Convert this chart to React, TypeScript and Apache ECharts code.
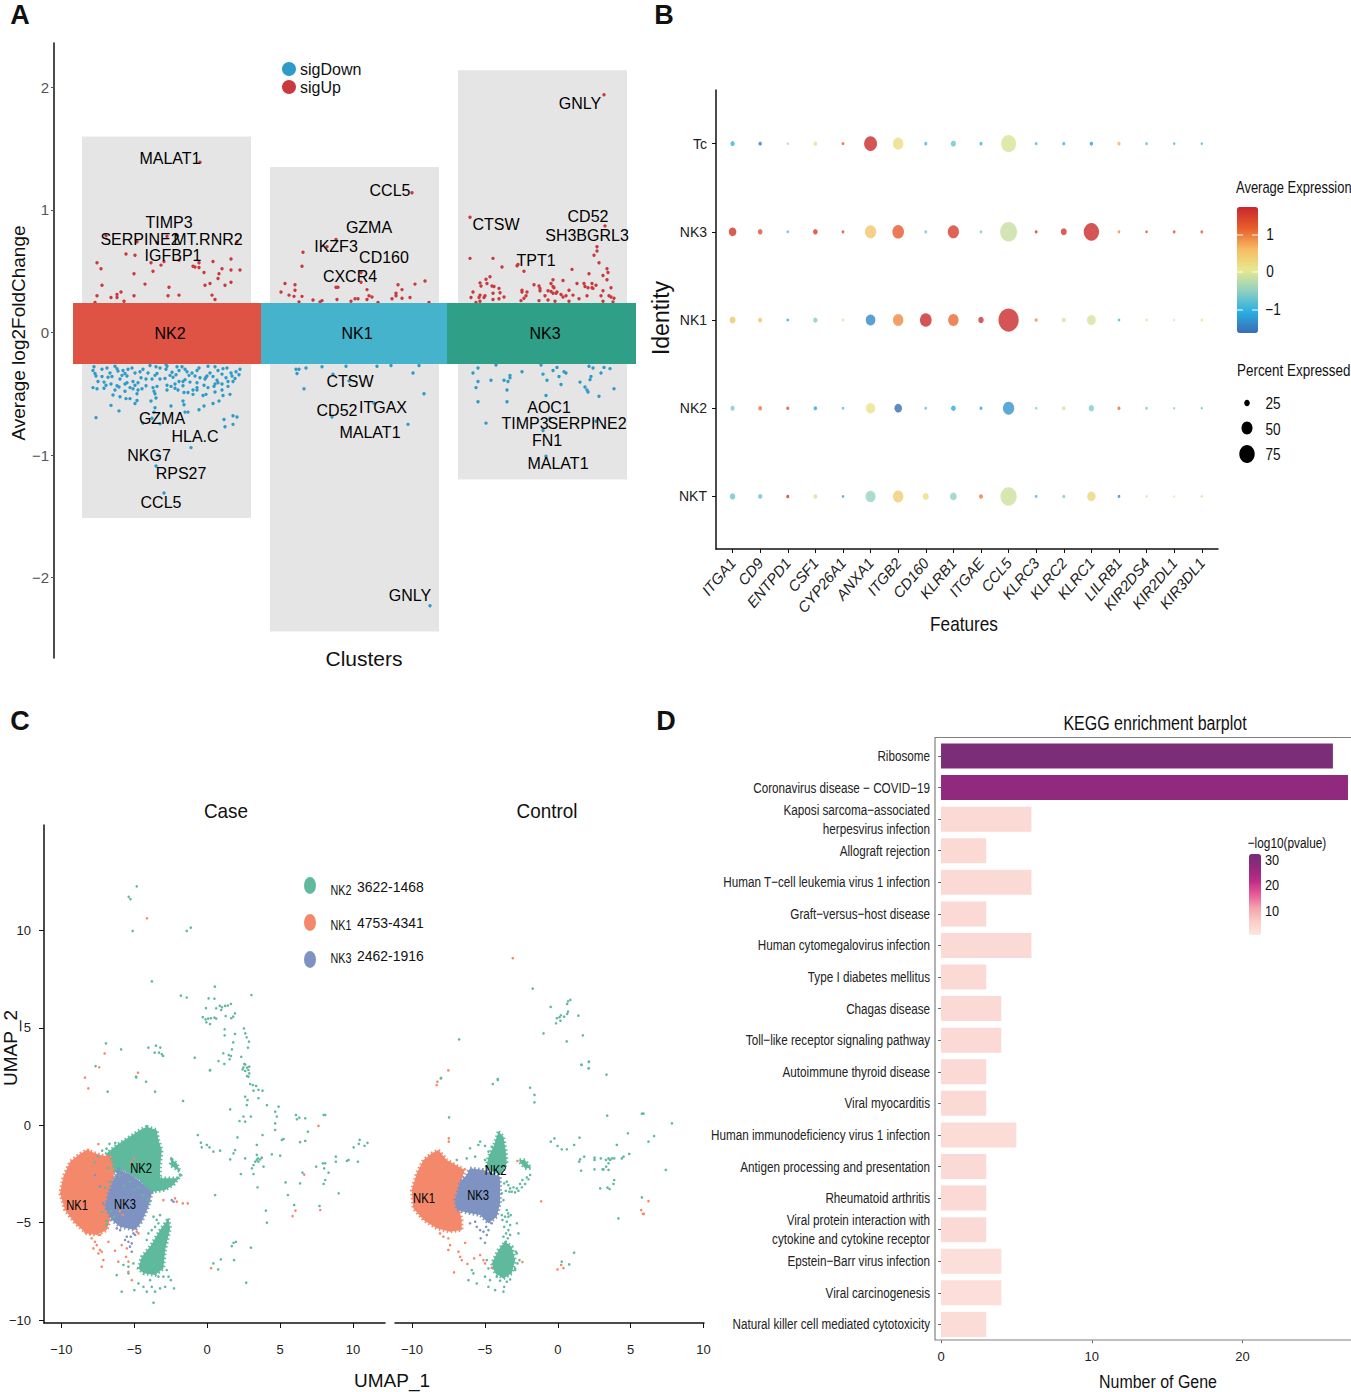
import React, { useEffect, useRef } from "react";
import * as echarts from "echarts";

const SANS = "'Liberation Sans', Arial, sans-serif";
const minus = (v: any) => String(v).replace("-", "\u2212");

// ---------- Panel A: strip positions (unitless jitter axis) and log2FC
const clusterNames = ["NK2", "NK1", "NK3"];
const clusterBands = [[73, 261], [261, 447], [447, 636]];
const clusterCentres = [170, 357, 545];
const bandTop = 0.24;
const bandBottom = -0.257;
const labelBoxes = [[82, 251, -1.515, 1.6], [270, 439, -2.44, 1.35], [458, 627, -1.2, 2.14]];
const sigUp = [
  [200, 1.39], [106, .79], [137, .74], [167, .785], [157, .735], [237, .74], [126, .64], [135, .63], [97, .57], [101, .52], [151, .57], [161, .55], [164, .58], [179, .59], [153, .5], [134, .48], [193, .54], [195, .535], [199, .53], [199, .57], [213, .58], [204, .49], [231, .6], [222, .52], [231, .51], [240, .51], [219, .48], [218, .44], [231, .41], [225, .385], [210, .4], [205, .385], [169, .37], [145, .395], [102, .385], [97, .3], [111, .285], [117, .285], [117, .31], [121, .33], [134, .3], [168, .3], [179, .305], [212, .305], [215, .27], [124, .255], [95, .245],
  [412, 1.14], [336, .76], [327, .7], [303, .655], [302, .54], [361, .49], [361, .41], [336, .37], [338, .37], [285, .4], [295, .39], [295, .345], [281, .33], [289, .305], [294, .295], [302, .295], [299, .25], [313, .265], [322, .26], [320, .25], [337, .27], [351, .255], [355, .275], [358, .275], [367, .27], [369, .3], [372, .29], [367, .35], [378, .245], [392, .275], [396, .3], [396, .32], [398, .39], [402, .35], [402, .28], [410, .285], [415, .395], [425, .42], [429, .245],
  [604, 1.94], [470, .94], [605, .87], [470, .605], [493, .605], [502, .535], [517, .545], [518, .555], [524, .5], [572, .515], [599, .57], [594, .63], [597, .665], [597, .7], [607, .52], [608, .49], [603, .465], [607, .43], [589, .48], [490, .455], [486, .435], [487, .4], [480, .405], [481, .38], [492, .38], [494, .375], [499, .36], [500, .325], [504, .29], [493, .32], [493, .27], [499, .275], [473, .33], [471, .285], [480, .305], [479, .285], [485, .3], [484, .285], [480, .255], [476, .245], [522, .345], [522, .33], [527, .33], [526, .3], [524, .28], [521, .26], [534, .39], [539, .38], [540, .36], [540, .34], [539, .26], [545, .3], [548, .34], [551, .4], [553, .43], [553, .375], [554, .365], [551, .335], [553, .32], [556, .32], [557, .33], [548, .265], [555, .255], [563, .425], [569, .345], [561, .31], [563, .29], [566, .3], [573, .305], [569, .255], [577, .4], [584, .4], [585, .375], [588, .365], [592, .4], [593, .36], [596, .385], [592, .365], [587, .3], [579, .275], [601, .3], [603, .34], [611, .365], [609, .3], [611, .29], [614, .28], [603, .255], [613, .25],
];
const sigDown = [
  [94, -.28], [93, -.31], [95, -.335], [96, -.355], [102, -.3], [107, -.29], [115, -.275], [117, -.295], [118, -.315], [123, -.31], [128, -.3], [132, -.29], [125, -.335], [127, -.355], [140, -.32], [143, -.3], [150, -.27], [156, -.28], [160, -.29], [166, -.3], [167, -.275], [166, -.26], [177, -.28], [179, -.31], [182, -.28], [185, -.3], [187, -.32], [189, -.35], [195, -.355], [197, -.31], [199, -.29], [208, -.275], [215, -.28], [218, -.31], [223, -.295], [227, -.29], [231, -.33], [232, -.355], [239, -.345], [235, -.375], [233, -.4], [228, -.4], [217, -.39], [218, -.41], [215, -.42], [207, -.355], [205, -.38], [204, -.43], [197, -.45],
  [102, -.36], [108, -.365], [112, -.36], [122, -.35], [127, -.41], [133, -.4], [135, -.43], [138, -.41], [155, -.35], [157, -.335], [152, -.38], [165, -.375], [170, -.35], [173, -.365], [179, -.4], [175, -.42], [167, -.43], [183, -.435], [190, -.405], [197, -.41], [206, -.365],
  [93, -.45], [97, -.46], [104, -.405], [106, -.43], [104, -.455], [117, -.435], [115, -.47], [119, -.445], [125, -.48], [133, -.46], [138, -.47], [137, -.5], [113, -.51], [120, -.525], [126, -.54], [130, -.54], [135, -.58], [137, -.555], [146, -.435], [153, -.45], [154, -.48], [155, -.5], [156, -.535], [151, -.56], [167, -.47], [175, -.455], [184, -.49], [188, -.49], [193, -.47], [193, -.505], [197, -.47], [203, -.515], [206, -.505], [215, -.485], [222, -.47], [223, -.515], [230, -.505],
  [111, -.595], [119, -.64], [183, -.56], [184, -.59], [155, -.615], [154, -.65], [171, -.6], [185, -.65], [188, -.65], [199, -.63], [204, -.6], [213, -.58], [219, -.56], [96, -.695], [152, -.7], [160, -.745], [224, -.71], [233, -.68], [237, -.69], [233, -.75], [225, -.77],
  [110, -.33], [135, -.33], [148, -.33], [172, -.325], [176, -.345], [192, -.33], [210, -.33], [213, -.36], [222, -.34], [226, -.37], [236, -.32], [240, -.3], [120, -.38], [141, -.37], [146, -.38], [160, -.38], [185, -.385], [200, -.37], [183, -.4], [222, -.42], [228, -.44], [98, -.4], [111, -.42], [125, -.42], [142, -.46], [157, -.44], [171, -.44], [178, -.47], [208, -.45], [214, -.44], [130, -.45],
  [191, -.94], [158, -1.0], [156, -1.09], [164, -1.31], [143, -.74],
  [296, -.3], [299, -.3], [297, -.335], [306, -.29], [322, -.28], [333, -.34], [346, -.275], [377, -.275], [391, -.27], [419, -.27], [413, -.33], [304, -.46], [349, -.395], [424, -.5], [374, -.575], [332, -.69], [408, -.75], [430, -2.23],
  [478, -.29], [473, -.33], [496, -.265], [478, -.4], [476, -.45], [491, -.39], [504, -.39], [510, -.35], [510, -.37], [508, -.4], [507, -.47], [522, -.32], [541, -.265], [543, -.34], [553, -.31], [557, -.285], [559, -.36], [547, -.39], [564, -.32], [566, -.33], [561, -.425], [589, -.275], [593, -.29], [604, -.285], [610, -.295], [601, -.33], [591, -.36], [590, -.385], [580, -.405], [585, -.445], [587, -.47], [588, -.485], [599, -.52], [614, -.46], [546, -.515], [478, -.565], [507, -.565], [486, -.74], [550, -.7], [596, -.725], [543, -.8], [546, -1.01],
];
const geneLabels: [number, number, string][] = [
  [170, 1.42, "MALAT1"], [169, .9, "TIMP3"], [140, .76, "SERPINE2"], [208, .76, "MT.RNR2"], [173, .625, "IGFBP1"], [162, -.7, "GZMA"], [195, -.85, "HLA.C"], [149, -1.0, "NKG7"], [181, -1.155, "RPS27"], [161, -1.385, "CCL5"],
  [390, 1.16, "CCL5"], [369, .855, "GZMA"], [336, .7, "IKZF3"], [384, .615, "CD160"], [350, .46, "CXCR4"], [350, -.4, "CTSW"], [337, -.64, "CD52"], [383, -.615, "ITGAX"], [370, -.82, "MALAT1"], [410, -2.15, "GNLY"],
  [580, 1.87, "GNLY"], [496, .885, "CTSW"], [588, .95, "CD52"], [587, .79, "SH3BGRL3"], [536, .585, "TPT1"], [549, -.61, "AOC1"], [525, -.745, "TIMP3"], [587, -.745, "SERPINE2"], [547, -.885, "FN1"], [558, -1.07, "MALAT1"],
];

// ---------- Panel B
const features = ["ITGA1", "CD9", "ENTPD1", "CSF1", "CYP26A1", "ANXA1", "ITGB2", "CD160", "KLRB1", "ITGAE", "CCL5", "KLRC3", "KLRC2", "KLRC1", "LILRB1", "KIR2DS4", "KIR2DL1", "KIR3DL1"];
const identities = ["NKT", "NK2", "NK1", "NK3", "Tc"];
const exprNKT = [-.7, -.7, 1.6, -.05, -1.2, -.45, .4, .2, -.5, 1.0, -.12, -.9, -.6, .3, -1.4, -.05, 0, -.1];
const pctNKT = [22, 16, 10, 14, 7, 44, 46, 24, 28, 14, 74, 8, 10, 36, 8, 6, 5, 6];
const exprNK2 = [-.6, 1.0, 1.3, -1.1, -.9, .1, -1.7, -.8, -1.1, -1.2, -1.3, -.5, -.05, -.6, 1.1, -.7, -.5, -.7];
const pctNK2 = [16, 14, 10, 12, 7, 40, 32, 8, 18, 9, 50, 7, 12, 22, 10, 7, 6, 6];
const exprNK1 = [.5, .5, -1.1, -.6, 0, -1.4, .9, 1.7, 1.1, 1.6, 1.7, .9, -.05, -.05, -.9, .1, 0, .2];
const pctNK1 = [24, 16, 8, 16, 8, 42, 46, 52, 46, 22, 94, 10, 14, 38, 8, 8, 6, 7];
const exprNK3 = [1.6, 1.3, -.9, 1.5, 1.5, .5, 1.2, -.7, 1.5, -.6, -.15, 1.6, 1.6, 1.7, .9, 1.4, 1.4, 1.3];
const pctNK3 = [32, 18, 7, 18, 8, 50, 52, 9, 50, 9, 78, 9, 24, 70, 8, 7, 8, 8];
const exprTc = [-1, -1.5, -.3, 0, 1.2, 1.7, .2, -.9, -.7, -1, -.05, -.9, -.9, -1.2, .7, -.8, -.9, -.9];
const pctTc = [16, 12, 6, 14, 8, 58, 46, 10, 20, 10, 68, 8, 10, 12, 10, 8, 7, 7];
const exprRows = [exprNKT, exprNK2, exprNK1, exprNK3, exprTc];
const pctRows = [pctNKT, pctNK2, pctNK1, pctNK3, pctTc];
const dotData = exprRows.flatMap((row, r) => row.map((e, c) => [c, r + 1, e, pctRows[r][c]]));

// ---------- Panel C (UMAP). Dense cores are outlined; sparse cells are individual points
const caseTealCore = [
  [[-4.14, -.07], [-3.46, -.24], [-3.34, -.75], [-3.11, -1.27], [-3.23, -2.12], [-3.23, -2.72], [-2.08, -2.72], [-1.74, -2.47], [-2.31, -3.07], [-2.88, -3.32], [-3.68, -3.41], [-3.91, -3.49], [-4.6, -2.81], [-5.74, -2.29], [-6.66, -2.47], [-6.89, -1.78], [-6.89, -1.44], [-6.2, -1.01], [-5.29, -.58], [-4.6, -.24]],
  [[-2.65, -4.78], [-2.54, -5.29], [-2.88, -6.4], [-3.0, -7.35], [-3.57, -7.69], [-4.37, -7.6], [-4.71, -7.35], [-4.49, -6.75], [-3.91, -6.23], [-3.23, -5.38]],
  [[-2.43, -1.75], [-2.09, -1.95], [-1.86, -2.38], [-2.2, -2.21], [-2.54, -2.04]],
];
const caseOrangeCore = [[[-8.26, -1.27], [-7.35, -1.52], [-6.66, -1.61], [-6.4, -2.47], [-6.5, -3.49], [-6.6, -4.69], [-6.89, -5.38], [-7.57, -5.63], [-8.26, -5.55], [-9.06, -5.03], [-9.75, -4.35], [-10.09, -3.49], [-9.86, -2.64], [-9.4, -1.87], [-8.83, -1.52]]];
const caseBlueCore = [[[-6.09, -2.29], [-5.4, -2.47], [-4.6, -2.89], [-3.8, -3.49], [-4.03, -4.18], [-4.49, -4.95], [-4.94, -5.38], [-5.97, -5.21], [-6.54, -4.86], [-7.0, -4.18], [-6.77, -3.49], [-6.43, -2.81]]];
const caseTeal = [
  [-4.83, 12.27], [-5.38, 11.73], [-5.26, 11.61], [-5.11, 9.98], [-1.4, 9.98], [-1.12, 10.15], [-3.79, 7.39], [-1.8, 6.66], [-1.4, 6.56], [.53, 7.12], [.1, 6.52], [.5, 6.5], [3.04, 6.69], [-.08, 6.02], [.62, 6.01], [.87, 6.13], [1.02, 6.06], [1.23, 6.13], [1.42, 6.15], [1.63, 6.23], [.96, 5.92], [1.27, 5.61], [1.91, 5.75], [1.79, 5.58], [1.66, 5.5], [-.3, 5.55], [-.11, 5.44], [.07, 5.48], [.26, 5.5], [.5, 5.53], [.62, 5.48], [-.05, 5.29], [.2, 5.2], [1.2, 4.93], [2.52, 4.98], [2.62, 4.72], [1.91, 4.69], [1.2, 4.62], [2.71, 4.52], [2.87, 4.3], [1.79, 4.26], [2.8, 3.99], [1.7, 3.9], [1.48, 3.61], [1.63, 3.56], [1.54, 3.39], [1.11, 3.7], [.78, 3.3], [1.18, 3.15], [2.34, 3.52], [2.55, 3.15], [2.43, 2.87], [2.74, 2.96], [2.89, 3.01], [2.61, 2.79], [2.89, 2.67], [2.74, 2.53], [.19, 2.82], [-.85, 3.47],
  [-6.94, 4.21], [-5.9, 3.9], [-7.65, 3.04], [-4.03, 3.99], [-3.51, 4.09], [-3.21, 3.99], [-3.6, 3.73], [-3.3, 3.73], [-3.11, 3.65], [-3.02, 3.56], [-4.86, 2.46],
  [-4.88, 2.5], [-6.82, 1.73], [-4.19, 2.24], [-3.57, 1.73], [-1.65, 1.25], [.21, 2.84], [2.49, 2.98], [2.83, 2.84], [2.61, 3.12], [2.83, 2.5], [2.95, 2.12], [3.14, 2.07], [3.36, 2.02], [3.52, 1.82], [3.8, 1.78], [3.18, 1.78], [2.61, 1.47], [2.77, 1.3], [2.72, 1.04], [3.52, 1.39], [4.1, 1.04], [1.58, .82], [2.49, .45], [2.22, .22], [2.61, .19], [3.0, .45], [4.67, .7], [4.9, .96], [4.78, .45], [4.67, .1], [4.67, -.24], [6.09, .53], [6.16, .31], [6.32, .39], [6.73, .36], [6.91, -.33], [7.99, .53], [8.1, .53], [5.13, -.75], [5.24, -.7], [6.38, -.86], [6.73, -.8], [3.8, -.5], [3.41, -1.01], [2.08, -.62], [-.64, -.5], [-.43, -.89], [-.37, -1.13], [-.02, -1.01], [.16, -1.13], [.43, -1.35], [.89, -1.3], [1.92, -1.27], [1.81, -1.44], [1.58, -1.75], [2.61, -1.7], [4.44, -1.49], [5.01, -1.56],
  [3.18, -2.04], [3.3, -1.87], [3.41, -1.52], [3.48, -1.7], [3.64, -1.75], [3.75, -1.66], [3.41, -1.78], [3.52, -1.87], [3.87, -2.12], [3.07, -2.21], [3.18, -2.5], [2.31, -2.5], [3.46, -3.18], [.55, -3.58], [4.03, -4.38], [4.1, -5.0], [5.38, -2.93], [5.54, -3.58], [6.38, -2.98], [6.54, -2.43], [5.97, -4.09], [7.71, -4.14], [9.02, -3.49], [7.48, -2.12], [7.94, -1.95], [8.1, -1.95], [8.03, -2.21], [8.33, -2.43], [8.1, -2.81], [7.99, -3.01], [8.83, -1.61], [8.83, -1.87], [9.59, -1.83], [9.7, -1.78], [10.05, -1.13], [10.34, -1.87], [10.46, -.75], [11, -.9], [10.8, -1.05], [10.4, -.95],
  [1.69, -6.2], [1.81, -6.03], [1.97, -5.98], [3.0, -6.28], [1.85, -6.92], [.94, -6.88], [.43, -7.09], [.76, -7.4], [2.68, -8.08],
  [-3.68, -4.69], [-3.46, -4.86], [-3.23, -4.61], [-3.8, -5.38], [-4.03, -5.55], [-4.14, -5.89], [-3.57, -5.21], [-3.34, -5.03], [-5.06, -7.09], [-5.4, -7.26], [-5.74, -7.17], [-6.2, -7.69], [-5.86, -8.54], [-4.99, -8.46], [-5.4, -7.6], [-4.71, -8.12], [-4.37, -8.29], [-4.14, -8.54], [-3.8, -8.29], [-3.57, -8.54], [-3.23, -8.37], [-2.88, -8.29], [-2.65, -7.77], [-2.49, -7.95], [-2.27, -8.37], [-3.68, -9.11], [-2.77, -7.43], [-3.91, -7.95], [-3.34, -7.77], [-3.0, -7.77],
  [-6.8, -2.2], [-6.7, -2.9], [-7.0, -3.2], [-6.6, -4.4], [-6.9, -4.9], [-6.4, -4.7], [-7.2, -4.45], [-6.9, -5.1], [-5.7, -3.1], [-5.3, -2.9], [-5.0, -3.3], [-4.4, -3.6], [-4.1, -3.8], [-4.7, -3.2], [-6.0, -2.6], [-3.9, -3.9], [-7.7, -1.9], [-7.5, -1.6], [-6.9, -1.2], [-6.7, -.95], [-6.3, -.9], [-7.2, -1.3],
];
const caseOrange = [
  [-4.13, 10.63], [-7.03, 3.69], [-7.4, 2.98], [-4.74, 2.7], [-8.38, 2.45], [-8.15, 1.9], [7.64, -.03], [6.66, -2.53], [6.06, -4.38], [5.86, -4.66], [7.76, -4.35], [.27, -7.33],
  [-7.92, -5.8], [-7.69, -5.98], [-7.57, -6.15], [-7.8, -6.32], [-7.35, -6.4], [-7.46, -6.58], [-7.23, -6.49], [-7.12, -6.92], [-7.23, -7.26], [-6.77, -5.98], [-6.32, -6.44], [-5.86, -6.15], [-5.51, -6.32], [-6.09, -7.0], [-5.56, -6.75], [-5.4, -7.0], [-5.4, -7.52], [-5.17, -7.95], [-4.83, -5.46], [-4.71, -5.55], [-3.0, -3.84], [-2.2, -3.75], [-2.08, -3.92], [-1.67, -4.01], [-1.33, -4.01], [-7.46, -.96], [-8.15, -1.27], [-7.35, -5.63], [-8.03, -5.58], [-8.37, -5.46], [-5.8, -4.6], [-6.0, -4.4], [-5.2, -1.9], [-5.0, -1.7],
];
const caseBlue = [[-6.2, -5.29], [-5.97, -5.38], [-5.63, -5.89], [-5.4, -5.98], [-5.17, -6.06], [-5.29, -6.23], [-5.17, -6.49], [-5.06, -5.55], [-4.94, -5.63], [-5.51, -5.72], [-5.24, -5.72], [-2.43, -3.84], [-2.31, -3.92], [-7.12, -4.01], [-7.35, -3.15], [-7.69, -2.55], [-6.2, -2.38], [-6.09, -2.21]];
const controlTealCore = [
  [[-4.07, -.33], [-3.73, -.58], [-3.55, -1.44], [-3.5, -1.95], [-3.96, -2.55], [-4.92, -2.21], [-4.76, -1.61], [-4.42, -1.1]],
  [[-3.62, -5.98], [-3.16, -6.23], [-2.93, -6.92], [-3.16, -7.6], [-3.73, -7.86], [-4.3, -7.6], [-4.53, -7.09], [-4.07, -6.4]],
  [[-2.63, -1.78], [-2.25, -1.78], [-1.85, -2.21], [-2.25, -2.21], [-2.54, -1.95]],
];
const controlOrangeCore = [[[-8.19, -1.27], [-7.62, -1.78], [-6.82, -2.12], [-6.4, -2.29], [-6.6, -2.81], [-6.7, -3.49], [-6.8, -4.18], [-6.6, -4.86], [-6.59, -5.38], [-7.39, -5.46], [-8.31, -5.29], [-9.22, -4.86], [-9.91, -4.26], [-10.02, -3.32], [-9.68, -2.47], [-9.22, -1.78], [-8.65, -1.44]]];
const controlBlueCore = [[[-6.02, -2.21], [-5.1, -2.29], [-3.96, -2.64], [-3.96, -4.01], [-4.19, -4.69], [-4.76, -5.03], [-5.33, -4.61], [-6.02, -4.52], [-6.93, -4.35], [-7.05, -3.84], [-6.82, -3.24], [-6.7, -2.89], [-6.25, -2.55]]];
const controlTeal = [
  [-4.76, -8.29], [-4.3, -8.46], [-3.73, -8.54], [-3.68, -8.29], [-4.65, -7.95], [-4.99, -7.77], [-5.56, -8.12], [-6.13, -7.95], [-5.79, -7.6], [-5.9, -7.43], [-2.81, -6.58], [-2.63, -6.92], [-2.93, -7.43], [-2.7, -5.55], [-2.81, -5.03], [-3.5, -4.35], [-3.73, -3.84], [-3.84, -3.49], [-6.93, -1.78], [-6.25, -1.7], [-5.67, -1.61], [-6.02, -1.18], [-5.33, -.84], [-5.45, -1.01], [-4.99, -1.78], [-4.53, -1.1], [-4.07, -.75], [-4.76, -1.35], [-4.99, -1.06], [-4.46, 2.12], [-4.12, 2.33], [-8.03, 2.41], [-7.46, .41], [-1.9, 1.93], [-1.6, 1.56], [-1.6, 1.18],
  [-.48, -.84], [-.23, -.67], [-.02, -1.06], [.27, -1.23], [.62, -1.23], [1.12, -1.01], [1.49, -.63], [1.81, -1.61], [1.53, -1.75], [1.46, -1.87], [1.6, -2.33], [2.52, -1.66], [2.52, -1.78], [2.52, -2.26], [2.95, -1.7], [3.07, -2.26], [3.3, -1.78], [3.48, -1.7], [3.59, -1.78], [3.71, -1.7], [3.87, -1.7], [3.48, -1.95], [3.32, -2.12], [3.14, -2.26], [3.48, -2.29], [4.05, -1.01], [4.39, -1.7], [4.51, -1.61], [4.9, -1.47], [3.87, -2.81], [3.82, -3.01], [2.91, -3.24], [3.41, -3.2], [3.55, -3.27], [5.77, -3.7], [4.16, -4.78], [7.41, -2.29], [4.81, -.41], [6.22, -.84], [6.61, -.55], [7.83, .1], [5.77, .6], [5.88, .6], [3.39, .5], [1.62, 3.1], [2.13, 3.27], [2.13, 2.93], [1.12, -6.54], [.27, -7.0], [.78, -7.14],
  [-1.72, 7.02], [-.49, 6.08], [.7, 6.37], [.86, 6.44], [.64, 6.23], [.7, 5.84], [.64, 5.72], [.43, 5.58], [.21, 5.65], [.12, 5.55], [-.06, 5.5], [.18, 5.37], [-.12, 5.24], [1.41, 5.63], [-.98, 4.72], [1.72, 4.62], [.61, 4.31], [-6.77, 4.41], [-8.0, 2.43], [-4.11, 2.38], [1.62, 3.11], [2.14, 3.25], [2.11, 2.93], [3.34, 2.6],
  [-3.39, -3.07], [-3.27, -3.24], [-3.16, -3.41], [-2.93, -3.44], [-2.7, -3.36], [-2.47, -3.18], [-2.24, -3.01], [-2.01, -2.77], [-1.9, -2.55], [-3.5, -2.89], [-3.04, -3.18], [-2.81, -3.24], [-2.59, -3.01], [-2.13, -2.67], [-3.32, -3.41], [-3.57, -3.36], [-3.68, -2.98], [-2.43, -2.81],
  [-3.84, -4.61], [-3.62, -4.69], [-3.39, -4.69], [-3.5, -4.95], [-3.27, -5.12], [-3.68, -5.21], [-3.39, -5.38], [-3.55, -5.55], [-3.27, -5.63], [-3.43, -5.8], [-3.73, -5.72], [-3.23, -4.61], [-3.8, -4.86], [-3.41, -4.52], [-3.59, -5.98],
  [-4.42, -7.35], [-4.19, -7.77], [-3.96, -7.98], [-3.5, -8.03], [-3.27, -7.91], [-2.93, -7.35], [-2.77, -7.09], [-2.88, -6.49], [-3.84, -6.23], [-4.19, -6.75], [-4.76, -7.35], [-4.87, -6.92],
];
const controlOrange = [
  [-3.09, 8.58], [-7.51, 2.82], [-8.26, 2.24], [-8.31, 2.07], [-7.48, -.67], [-7.48, -.84], [-2.77, -1.83], [-1.14, -3.9], [6.22, -3.89], [5.72, -4.35], [5.84, -4.55], [5.9, -4.55], [-.02, -7.4], [.39, -7.33], [.23, -7.17],
  [-8.08, -5.55], [-7.85, -5.72], [-7.51, -5.8], [-7.39, -6.15], [-7.51, -6.4], [-6.82, -6.49], [-6.7, -6.75], [-6.59, -6.92], [-6.36, -6.03], [-6.2, -7.12], [-7.12, -7.55], [-5.74, -6.83], [-5.33, -6.66], [-5.1, -6.92], [-4.99, -7.09], [-4.53, -7.31], [-2.43, -7.02],
];
const controlBlue = [[-5.67, -4.95], [-5.56, -5.21], [-5.33, -5.38], [-5.1, -5.46], [-4.92, -5.21], [-4.87, -5.63], [-4.99, -6.03], [-5.29, -5.8], [-4.76, -5.38], [-6.02, -5.03], [-4.53, -5.03]];
const caseLabels: [number, number, string][] = [[-4.53, -2.19, "NK2"], [-8.92, -4.09, "NK1"], [-5.63, -4.04, "NK3"]];
const controlLabels: [number, number, string][] = [[-4.27, -2.3, "NK2"], [-9.18, -3.74, "NK1"], [-5.47, -3.58, "NK3"]];
const umapTicks = [-10, -5, 0, 5, 10];
const legendNames = ["NK2 3622-1468", "NK1 4753-4341", "NK3 2462-1916"];

// ---------- Panel D
const pathways = ["Ribosome", "Coronavirus disease \u2212 COVID\u221219", "Kaposi sarcoma\u2212associated\nherpesvirus infection", "Allograft rejection", "Human T\u2212cell leukemia virus 1 infection", "Graft\u2212versus\u2212host disease", "Human cytomegalovirus infection", "Type I diabetes mellitus", "Chagas disease", "Toll\u2212like receptor signaling pathway", "Autoimmune thyroid disease", "Viral myocarditis", "Human immunodeficiency virus 1 infection", "Antigen processing and presentation", "Rheumatoid arthritis", "Viral protein interaction with\ncytokine and cytokine receptor", "Epstein\u2212Barr virus infection", "Viral carcinogenesis", "Natural killer cell mediated cytotoxicity"];
const geneCounts = [26, 27, 6, 3, 6, 3, 6, 3, 4, 4, 3, 3, 5, 3, 3, 3, 4, 4, 3];
const pValues = [31, 27, 3, 3, 3, 3, 3, 3, 3, 3, 3, 3, 2.5, 3, 3, 3, 2, 2, 2.5];

const TEAL = "#5fb99c", ORANGE = "#f4886b", BLUE = "#7f93c2";
const ELLIPSE_ICON = "path://M0,-1A1,1 0 1 1 0,1A1,1 0 1 1 0,-1Z";

function T(x: number, y: number, text: string, size: number, o: any = {}) {
  return {
    type: "text", x, y, rotation: o.rotation ?? 0, scaleX: o.scaleX ?? 1, z: 50,
    style: { text, fontSize: size, fontFamily: SANS, fontWeight: o.weight ?? "normal", fill: o.fill ?? "#111", textAlign: o.align ?? "center", textVerticalAlign: "middle" },
  };
}

function polySeries(blobs: number[][][], color: string, g: number) {
  return {
    type: "custom", xAxisIndex: g, yAxisIndex: g, silent: true, clip: false, z: 2,
    data: blobs.map((b) => b[0]), encode: { x: 0, y: 1 },
    renderItem: (p: any, api: any) => ({
      type: "polygon",
      shape: { points: blobs[p.dataIndex].map((c) => api.coord(c)) },
      style: { fill: color, stroke: color, lineWidth: 3.5, lineDash: [1.5, 2.5] },
    }),
  };
}
function pointSeries(name: string, data: number[][], color: string, g: number, size = 2.6) {
  return { type: "scatter", name, data, xAxisIndex: g, yAxisIndex: g, symbol: "circle", symbolSize: size, itemStyle: { color, opacity: 1 }, z: 3, silent: true };
}
function labelSeries(data: [number, number, string][], g: number, size: number, scaleX = 1) {
  return {
    type: "custom", data, xAxisIndex: g, yAxisIndex: g, z: 6, silent: true, clip: false, encode: { x: 0, y: 1 },
    renderItem: (p: any, api: any) => {
      const c = api.coord([data[p.dataIndex][0], data[p.dataIndex][1]]);
      return { type: "text", x: c[0], y: c[1], scaleX, style: { text: data[p.dataIndex][2], align: "center", verticalAlign: "middle", fontSize: size, fontFamily: SANS, fill: "#000" } };
    },
  };
}
const blankX = (g: number, min: number, max: number) => ({ type: "value", gridIndex: g, min, max, show: false });

export default function App() {
  const ref = useRef<HTMLDivElement>(null);
  useEffect(() => {
    document.body.style.margin = "0";
    const chart = echarts.init(ref.current!, undefined, { renderer: "svg" });
    const umapX = (g: number, min: number, max: number) => ({
      type: "value", gridIndex: g, min, max, splitLine: { show: false },
      axisLine: { onZero: false, lineStyle: { color: "#111", width: 1.5 } },
      axisTick: { show: true, length: 5, customValues: umapTicks, lineStyle: { color: "#111" } },
      axisLabel: { customValues: umapTicks, formatter: minus, margin: 20, fontSize: 13, fontFamily: SANS, color: "#222" },
    });
    const series: any[] = [
      // A
      {
        type: "custom", xAxisIndex: 0, yAxisIndex: 0, silent: true, z: 1, data: labelBoxes, encode: { x: 0, y: 2 },
        renderItem: (p: any, api: any) => {
          const b = labelBoxes[p.dataIndex];
          const a = api.coord([b[0], b[3]]), c = api.coord([b[1], b[2]]);
          return { type: "rect", shape: { x: a[0], y: a[1], width: c[0] - a[0], height: c[1] - a[1] }, style: { fill: "#e6e5e5" } };
        },
      },
      { ...pointSeries("sigDown", sigDown, "#2e9bc8", 0, 3.4) },
      { ...pointSeries("sigUp", sigUp, "#c93a3e", 0, 3.4) },
      {
        type: "custom", xAxisIndex: 0, yAxisIndex: 0, silent: true, z: 4, data: clusterBands, encode: { x: 0 },
        renderItem: (p: any, api: any) => {
          const b = clusterBands[p.dataIndex];
          const a = api.coord([b[0], bandTop]), c = api.coord([b[1], bandBottom]);
          return {
            type: "group", children: [
              { type: "rect", shape: { x: a[0], y: a[1], width: c[0] - a[0], height: c[1] - a[1] }, style: { fill: ["#df5344", "#46b3cc", "#2f9f88"][p.dataIndex] } },
              { type: "text", style: { text: clusterNames[p.dataIndex], x: api.coord([clusterCentres[p.dataIndex], 0])[0], y: (a[1] + c[1]) / 2, align: "center", verticalAlign: "middle", fontSize: 16, fontFamily: SANS, fill: "#000" } },
            ],
          };
        },
      },
      labelSeries(geneLabels, 0, 16),
      // B
      {
        type: "scatter", xAxisIndex: 1, yAxisIndex: 1, data: dotData, silent: true, symbol: "circle",
        encode: { x: 0, y: 1 }, symbolSize: (v: number[]) => { const d = 1.2 + v[3] * 0.235; return [d * 0.87, d]; },
      },
      // C case
      polySeries(caseTealCore, TEAL, 2), polySeries(caseOrangeCore, ORANGE, 2), polySeries(caseBlueCore, BLUE, 2),
      pointSeries(legendNames[0], caseTeal, TEAL, 2), pointSeries(legendNames[1], caseOrange, ORANGE, 2), pointSeries(legendNames[2], caseBlue, BLUE, 2),
      labelSeries(caseLabels, 2, 15, 0.75),
      // C control
      polySeries(controlTealCore, TEAL, 3), polySeries(controlOrangeCore, ORANGE, 3), polySeries(controlBlueCore, BLUE, 3),
      pointSeries("control NK2", controlTeal, TEAL, 3), pointSeries("control NK1", controlOrange, ORANGE, 3), pointSeries("control NK3", controlBlue, BLUE, 3),
      labelSeries(controlLabels, 3, 15, 0.75),
      // D
      {
        type: "bar", xAxisIndex: 4, yAxisIndex: 4, silent: true, barWidth: 25,
        data: geneCounts.map((g, i) => [g, i, pValues[i]]), encode: { x: 0, y: 1 },
      },
      {
        type: "custom", xAxisIndex: 4, yAxisIndex: 4, silent: true, clip: false, z: 6,
        data: pathways.map((_, i) => [0, i]), encode: { x: 0, y: 1 },
        renderItem: (p: any, api: any) => {
          const c = api.coord([-0.4, p.dataIndex]);
          return { type: "text", x: c[0] - 5, y: c[1], scaleX: 0.78, style: { text: pathways[p.dataIndex], align: "right", verticalAlign: "middle", fontSize: 15, lineHeight: 19, fontFamily: SANS, fill: "#222" } };
        },
      },
    ];
    const barIdx = series.length - 2;
    const dotIdx = 5;
    const graphic = [
      T(20, 15, "A", 27, { weight: "bold" }), T(664, 15, "B", 27, { weight: "bold" }),
      T(20, 721, "C", 27, { weight: "bold" }), T(666, 721, "D", 27, { weight: "bold" }),
      T(18, 333, "Average log2FoldChange", 19, { rotation: Math.PI / 2 }),
      T(364, 658, "Clusters", 21),
      T(661, 318, "Identity", 23, { rotation: Math.PI / 2 }),
      T(964, 624, "Features", 20, { scaleX: 0.86 }),
      T(1236, 188, "Average Expression", 16, { align: "left", scaleX: 0.81 }),
      T(1237, 371, "Percent Expressed", 16, { align: "left", scaleX: 0.84 }),
      T(1270, 235, "1", 16, { scaleX: 0.85 }), T(1270, 272, "0", 16, { scaleX: 0.85 }), T(1273, 310, "\u22121", 16, { scaleX: 0.85 }),
      { type: "line", z: 50, shape: { x1: 1237, y1: 235, x2: 1243, y2: 235 }, style: { stroke: "#fff" } },
      { type: "line", z: 50, shape: { x1: 1252, y1: 235, x2: 1258, y2: 235 }, style: { stroke: "#fff" } },
      { type: "line", z: 50, shape: { x1: 1237, y1: 272, x2: 1243, y2: 272 }, style: { stroke: "#fff" } },
      { type: "line", z: 50, shape: { x1: 1252, y1: 272, x2: 1258, y2: 272 }, style: { stroke: "#fff" } },
      { type: "line", z: 50, shape: { x1: 1237, y1: 310, x2: 1243, y2: 310 }, style: { stroke: "#fff" } },
      { type: "line", z: 50, shape: { x1: 1252, y1: 310, x2: 1258, y2: 310 }, style: { stroke: "#fff" } },
      { type: "ellipse", z: 50, shape: { cx: 1247, cy: 403, rx: 2.8, ry: 3.3 }, style: { fill: "#000" } },
      { type: "ellipse", z: 50, shape: { cx: 1247, cy: 428, rx: 5.5, ry: 6.5 }, style: { fill: "#000" } },
      { type: "ellipse", z: 50, shape: { cx: 1247, cy: 454, rx: 7.7, ry: 9 }, style: { fill: "#000" } },
      T(1273, 404, "25", 16, { scaleX: 0.85 }), T(1273, 430, "50", 16, { scaleX: 0.85 }), T(1273, 455, "75", 16, { scaleX: 0.85 }),
      T(226, 811, "Case", 21, { scaleX: 0.9 }), T(547, 811, "Control", 21, { scaleX: 0.9 }),
      T(341, 890, "NK2", 15, { scaleX: 0.72 }), T(341, 925, "NK1", 15, { scaleX: 0.72 }), T(341, 958, "NK3", 15, { scaleX: 0.72 }),
      T(357, 887, "3622-1468", 15, { align: "left", scaleX: 0.93 }), T(357, 923, "4753-4341", 15, { align: "left", scaleX: 0.93 }), T(357, 956, "2462-1916", 15, { align: "left", scaleX: 0.93 }),
      T(10, 1048, "UMAP_2", 19, { rotation: Math.PI / 2 }),
      T(392, 1380, "UMAP_1", 19),
      T(1155, 723, "KEGG enrichment barplot", 20, { scaleX: 0.8 }),
      T(1158, 1382, "Number of Gene", 19, { scaleX: 0.84 }),
      T(1287, 843, "\u2212log10(pvalue)", 15, { scaleX: 0.79 }),
      T(1272, 860, "30", 15, { scaleX: 0.85 }), T(1272, 885, "20", 15, { scaleX: 0.85 }), T(1272, 911, "10", 15, { scaleX: 0.85 }),
      { type: "polyline", z: 1, shape: { points: [[1351, 737.5], [935, 737.5], [935, 1340], [1351, 1340]] }, style: { stroke: "#808080", lineWidth: 1.2, fill: "none" } },
    ];
    chart.setOption({
      animation: false,
      backgroundColor: "#fff",
      textStyle: { fontFamily: SANS },
      grid: [
        { left: 54, top: 43, width: 586, height: 615 },
        { left: 716, top: 90, width: 502, height: 459 },
        { left: 44, top: 825, width: 341, height: 498 },
        { left: 395, top: 825, width: 309, height: 498 },
        { left: 935, top: 740.2, width: 416, height: 600 },
      ],
      xAxis: [
        blankX(0, 54, 640),
        {
          type: "value", gridIndex: 1, min: -0.6, max: 17.587, splitLine: { show: false },
          axisLine: { onZero: false, lineStyle: { color: "#111", width: 1.5 } },
          axisTick: { length: 4, customValues: features.map((_, i) => i), lineStyle: { color: "#111" } },
          axisLabel: { customValues: features.map((_, i) => i), formatter: (v: number) => features[v], rotate: 50, margin: 11, fontSize: 15, fontStyle: "italic", fontFamily: SANS, color: "#222" },
        },
        umapX(2, -11.19, 12.2),
        umapX(3, -11.17, 10.03),
        {
          type: "value", gridIndex: 4, min: -0.4, max: 27.2, splitLine: { show: false },
          axisLine: { show: false },
          axisTick: { show: true, length: 3, customValues: [0, 10, 20], lineStyle: { color: "#666" } },
          axisLabel: { customValues: [0, 10, 20], margin: 10, fontSize: 13, fontFamily: SANS, color: "#222" },
        },
      ],
      yAxis: [
        {
          type: "value", gridIndex: 0, min: -2.657, max: 2.363, splitLine: { show: false },
          axisLine: { onZero: false, lineStyle: { color: "#111", width: 1.5 } },
          axisTick: { length: 3, customValues: [-2, -1, 0, 1, 2], lineStyle: { color: "#555" } },
          axisLabel: { customValues: [-2, -1, 0, 1, 2], formatter: minus, margin: 5, fontSize: 15, color: "#555", fontFamily: SANS },
        },
        {
          type: "value", gridIndex: 1, min: 0.404, max: 5.608, splitLine: { show: false },
          axisLine: { onZero: false, lineStyle: { color: "#111", width: 1.5 } },
          axisTick: { length: 4, customValues: [1, 2, 3, 4, 5], lineStyle: { color: "#111" } },
          axisLabel: { customValues: [1, 2, 3, 4, 5], formatter: (v: number) => identities[v - 1], margin: 9, fontSize: 14, fontFamily: SANS, color: "#222" },
        },
        {
          type: "value", gridIndex: 2, min: -10.15, max: 15.42, splitLine: { show: false },
          axisLine: { onZero: false, lineStyle: { color: "#111", width: 1.5 } },
          axisTick: { length: 5, customValues: umapTicks, lineStyle: { color: "#111" } },
          axisLabel: { customValues: umapTicks, formatter: minus, margin: 13, fontSize: 13, fontFamily: SANS, color: "#222" },
        },
        { type: "value", gridIndex: 3, min: -10.15, max: 15.42, show: false },
        {
          type: "category", gridIndex: 4, inverse: true, data: pathways,
          axisLine: { show: false },
          axisTick: { show: true, length: 3, alignWithLabel: true, lineStyle: { color: "#666" } },
          axisLabel: { show: false },
        },
      ],
      visualMap: [
        {
          type: "continuous", seriesIndex: dotIdx, dimension: 2, min: -1.63, max: 1.73, left: 1237, top: 207, padding: 0,
          itemWidth: 21, itemHeight: 126, calculable: false, hoverLink: false,
          inRange: { color: ["#3a6cb4", "#2aaee2", "#8fd0c2", "#e8e88e", "#f6bb62", "#e85d2d", "#c8262b"] },
        },
        {
          type: "continuous", seriesIndex: barIdx, dimension: 2, min: 0.5, max: 32, left: 1249, top: 854, padding: 0,
          itemWidth: 12, itemHeight: 81, calculable: false, hoverLink: false,
          inRange: { color: ["#fde6e1", "#f9cdc8", "#f5a3ae", "#e85b96", "#bd2d85", "#92297e", "#752e75"] },
        },
      ],
      legend: [
        {
          data: ["sigDown", "sigUp"], left: 282, top: 61, orient: "vertical", padding: 0, itemGap: 2, itemWidth: 14, itemHeight: 14, icon: "circle",
          selectedMode: false, textStyle: { fontSize: 16, fontFamily: SANS, color: "#111", padding: [0, 0, 0, -1] },
        },
        {
          data: legendNames, left: 304, top: 877, orient: "vertical", padding: 0, itemGap: 20, itemWidth: 12, itemHeight: 17, icon: ELLIPSE_ICON, symbolKeepAspect: false,
          selectedMode: false, formatter: () => "", textStyle: { fontSize: 1 },
        },
      ],
      graphic,
      series,
    });
    return () => chart.dispose();
  }, []);
  return <div ref={ref} style={{ position: "absolute", left: 0, top: 0, width: 1351, height: 1392 }} />;
}
